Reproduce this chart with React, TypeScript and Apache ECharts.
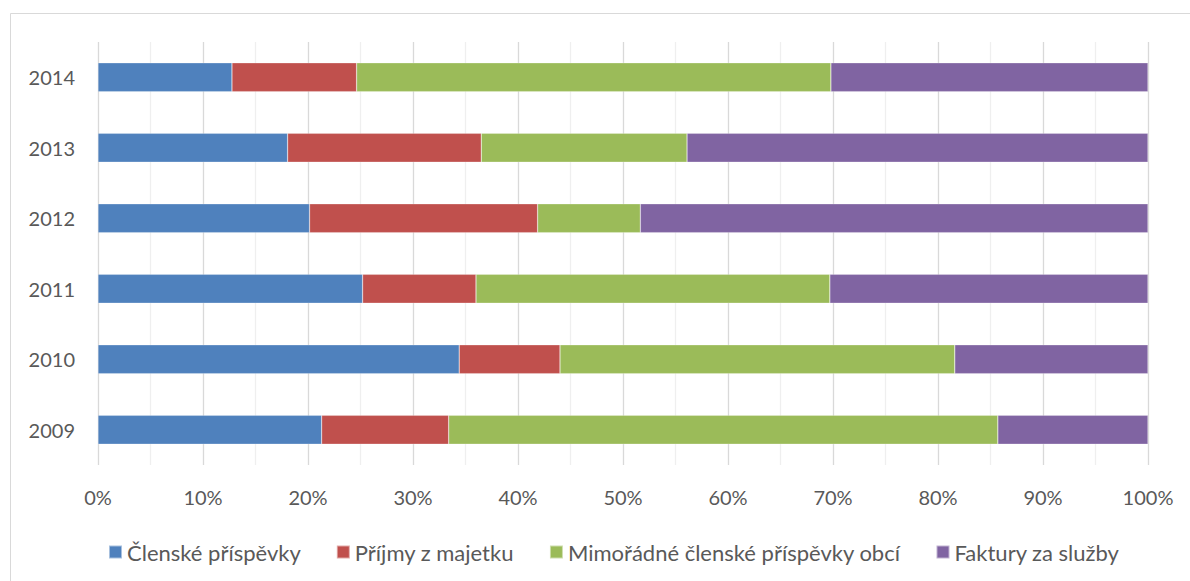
import React, { useEffect, useRef } from "react";
import * as echarts from "echarts";

const years = ["2009", "2010", "2011", "2012", "2013", "2014"];
const seriesNames = [
  "Členské příspěvky",
  "Příjmy z majetku",
  "Mimořádné členské příspěvky obcí",
  "Faktury za služby",
];
const clenske = [21.3, 34.4, 25.2, 20.15, 18.06, 12.76];
const prijmy = [12.1, 9.6, 10.8, 21.72, 18.44, 11.87];
const mimoradne = [52.3, 37.6, 33.7, 9.78, 19.6, 45.17];
const faktury = [14.3, 18.4, 30.3, 48.35, 43.9, 30.2];
const colors = ["#4F81BD", "#C0504D", "#9BBB59", "#8064A2"];

export default function App() {
  const ref = useRef<HTMLDivElement>(null);
  useEffect(() => {
    document.body.style.margin = "0";
    if (!ref.current) return;
    const chart = echarts.init(ref.current, null, { renderer: "svg" });
    const data = [clenske, prijmy, mimoradne, faktury];
    const font = "Lato, 'Open Sans', sans-serif";
    chart.setOption({
      animation: false,
      textStyle: { fontFamily: font },
      graphic: [
        {
          type: "rect",
          shape: { x: 10.5, y: 13.5, width: 1200, height: 600 },
          style: { fill: "none", stroke: "#d9d9d9", lineWidth: 1 },
          silent: true,
        },
      ],
      grid: { left: 98, right: 42, top: 42, bottom: 116 },
      legend: {
        data: seriesNames,
        top: 536,
        left: 103,
        itemWidth: 13,
        itemHeight: 13,
        itemGap: 35,
        icon: "rect",
        textStyle: { color: "#595959", fontSize: 22, fontFamily: font },
      },
      xAxis: {
        type: "value",
        min: 0,
        max: 100,
        interval: 10,
        axisLine: { show: false },
        axisTick: { show: false },
        axisLabel: {
          formatter: "{value}%",
          color: "#595959",
          fontSize: 20,
          margin: 22,
          fontFamily: font,
        },
        splitLine: { show: true, lineStyle: { color: "#d9d9d9", width: 1.3 } },
        minorTick: { show: false, splitNumber: 2 },
        minorSplitLine: { show: true, lineStyle: { color: "#efefef", width: 1.3 } },
      },
      yAxis: {
        type: "category",
        data: years,
        axisLine: { show: false },
        axisTick: { show: false },
        axisLabel: { color: "#595959", fontSize: 20, margin: 23, fontFamily: font },
      },
      series: seriesNames.map((name, i) => ({
        name,
        type: "bar",
        stack: "total",
        data: data[i],
        barWidth: "41%",
        itemStyle: { color: colors[i], borderColor: "rgba(255,255,255,0.5)", borderWidth: 0.5 },
      })),
    });
    return () => chart.dispose();
  }, []);
  return <div ref={ref} style={{ width: 1190, height: 581 }} />;
}
